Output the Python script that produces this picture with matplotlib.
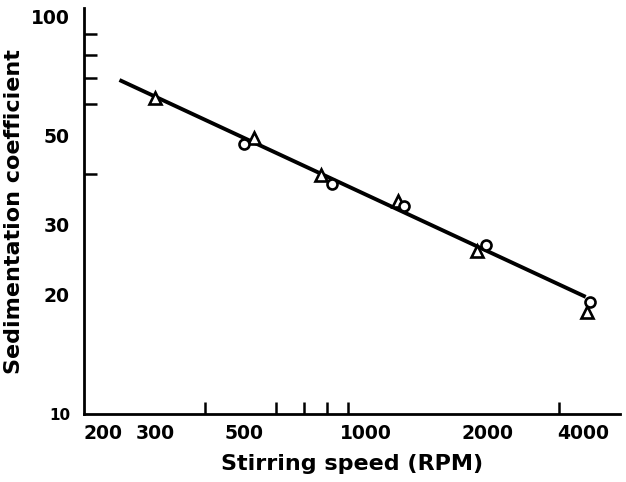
import matplotlib
matplotlib.use("Agg")
import matplotlib.pyplot as plt
from matplotlib.ticker import FixedLocator, NullFormatter

# data (log-log)
tri_rpm = [300, 529, 774, 1199, 1878, 3530]
tri_s = [62.2, 49.4, 39.9, 34.3, 25.7, 18.1]

circ_rpm = [499, 824, 1240, 1978, 3592]
circ_s = [47.7, 37.8, 33.3, 26.6, 19.1]

fit_rpm = [245, 3500]
fit_s = [69.1, 19.7]

x_labels = [200, 300, 500, 1000, 2000, 4000]
x_marks = [300, 400, 500, 600, 700, 800, 900, 1000, 2000, 3000]
y_labels = [10, 20, 30, 50, 100]
y_marks = [20, 30, 40, 50, 60, 70, 80, 90]

plt.rcParams['font.family'] = ['DejaVu Sans']
plt.rcParams['font.weight'] = 'bold'

fig = plt.figure(figsize=(6.26, 4.82), dpi=100)
ax = fig.add_axes([0.134, 0.141, 0.856, 0.842])

ax.plot(fit_rpm, fit_s, color='black', lw=2.8, solid_capstyle='butt', zorder=2)
ax.plot(tri_rpm, tri_s, ls='none', marker='^', ms=8, mfc='white',
        mec='black', mew=1.9, zorder=3)
ax.plot(circ_rpm, circ_s, ls='none', marker='o', ms=7.2, mfc='white',
        mec='black', mew=1.9, zorder=3)

ax.set_xscale('log')
ax.set_yscale('log')
ax.set_xlim(200, 4250)
ax.set_ylim(10, 104.7)

for side in ('top', 'right'):
  ax.spines[side].set_visible(False)
for side in ('left', 'bottom'):
  ax.spines[side].set_linewidth(2)

ax.xaxis.set_major_locator(FixedLocator(x_labels))
ax.xaxis.set_minor_locator(FixedLocator(x_marks))
ax.set_xticklabels([str(v) for v in x_labels])
ax.xaxis.set_minor_formatter(NullFormatter())
ax.yaxis.set_major_locator(FixedLocator(y_labels))
ax.yaxis.set_minor_locator(FixedLocator(y_marks))
ax.set_yticklabels([str(v) for v in y_labels])
ax.yaxis.set_minor_formatter(NullFormatter())

ax.tick_params(which='major', length=0, labelsize=13.5)
ax.tick_params(axis='x', which='major', pad=7)
ax.tick_params(axis='y', which='major', pad=10)
ax.tick_params(which='minor', direction='in', length=9, width=1.8)

xl = ax.get_xticklabels()
xl[0].set_horizontalalignment('left')
xl[-1].set_horizontalalignment('right')
yl = ax.get_yticklabels()
yl[0].set_fontsize(11)

ax.set_xlabel('Stirring speed (RPM)', fontsize=16, fontweight='bold', labelpad=8)
ax.set_ylabel('Sedimentation coefficient', fontsize=16, fontweight='bold', labelpad=5)

fig.savefig('out.png', dpi=100)
